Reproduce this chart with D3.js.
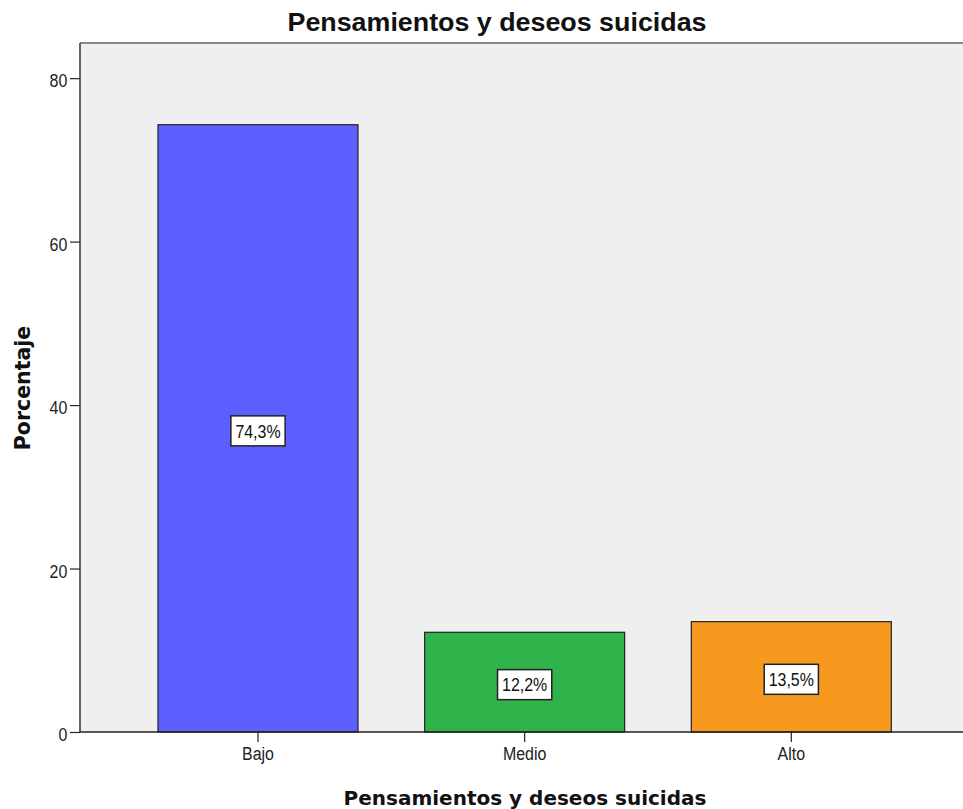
<!DOCTYPE html>
<html><head><meta charset="utf-8">
<script src="https://cdn.jsdelivr.net/npm/d3@7"></script>
<style>body{margin:0;background:#fff}svg{display:block}</style>
</head><body>
<svg id="c" width="963" height="809"></svg>
<script>
const categories = ["Bajo", "Medio", "Alto"];
const values = [74.3, 12.2, 13.5];
const labels = ["74,3%", "12,2%", "13,5%"];
const colors = ["#5b60ff", "#2fb34a", "#f7991f"];
const yTicks = [0, 20, 40, 60, 80];

(function () {
const svg = d3.select("#c");
const pL = 80, pR = 969.3, pT = 43, pB = 732;
const SX = 0.84, FS = 19, FONT = "Liberation Sans, Arial, sans-serif";

const x = d3.scaleBand().domain(categories).range([pL, pR]).paddingInner(0.25).paddingOuter(0.2925);
const y = d3.scaleLinear().domain([0, 84.3]).range([pB, pT]);

svg.append("rect").attr("x", pL).attr("y", pT).attr("width", pR - pL).attr("height", pB - pT).attr("fill", "#efefef");
svg.append("line").attr("x1", pL).attr("x2", pR).attr("y1", pT).attr("y2", pT).attr("stroke", "#8a8a8a").attr("stroke-width", 2);

svg.selectAll("rect.bar").data(values).join("rect").attr("class", "bar")
  .attr("x", (d, i) => x(categories[i])).attr("width", x.bandwidth())
  .attr("y", d => y(d)).attr("height", d => y(0) - y(d))
  .attr("fill", (d, i) => colors[i]).attr("stroke", "#222").attr("stroke-width", 1.2);

const ya = svg.append("g").attr("transform", `translate(${pL},0)`)
  .call(d3.axisLeft(y).tickValues(yTicks).tickSize(10).tickPadding(3));
ya.select(".domain").attr("d", `M0,${pT}V${pB}`).attr("stroke", "#333").attr("stroke-width", 1.5);
ya.selectAll(".tick line").attr("stroke", "#222").attr("stroke-width", 1.2);
ya.selectAll("text").attr("font-family", FONT).attr("font-size", FS).attr("fill", "#222")
  .attr("x", -12.7 / SX).attr("dy", "0.45em").attr("transform", `scale(${SX},1)`);

const xa = svg.append("g").attr("transform", `translate(0,${pB})`)
  .call(d3.axisBottom(x).tickSize(10).tickPadding(5));
xa.select(".domain").attr("d", `M${pL},0H${pR}`).attr("stroke", "#222").attr("stroke-width", 1.5);
xa.selectAll(".tick line").attr("stroke", "#222").attr("stroke-width", 1.2);
xa.selectAll("text").attr("font-family", FONT).attr("font-size", FS).attr("fill", "#222")
  .attr("transform", `scale(${SX},1)`);

const lg = svg.selectAll("g.lab").data(values).join("g").attr("class", "lab")
  .attr("transform", (d, i) => `translate(${x(categories[i]) + x.bandwidth() / 2},${(y(d) + y(0)) / 2 + 2.5})`);
lg.each(function (d, i) {
  const g = d3.select(this);
  const tg = g.append("g").attr("transform", `scale(${SX},1)`);
  const t = tg.append("text").text(labels[i]).attr("text-anchor", "middle").attr("dy", "0.36em")
    .attr("font-family", FONT).attr("font-size", FS).attr("fill", "#111");
  const w = t.node().getBBox().width * SX;
  g.insert("rect", "g").attr("x", -w / 2 - 4.5).attr("y", -15).attr("width", w + 9).attr("height", 30)
    .attr("fill", "#fff").attr("stroke", "#222").attr("stroke-width", 1.5);
});

svg.append("text").attr("x", 497).attr("y", 31).attr("text-anchor", "middle")
  .attr("font-family", FONT).attr("font-weight", "bold").attr("font-size", 25)
  .attr("textLength", 419).attr("lengthAdjust", "spacingAndGlyphs")
  .attr("fill", "#111").text("Pensamientos y deseos suicidas");
svg.append("text").attr("x", 525).attr("y", 805).attr("text-anchor", "middle")
  .attr("font-family", "DejaVu Sans, sans-serif").attr("font-weight", "bold").attr("font-size", 20)
  .attr("fill", "#111").text("Pensamientos y deseos suicidas");
svg.append("text").attr("transform", "translate(30,388) rotate(-90)").attr("text-anchor", "middle")
  .attr("font-family", "DejaVu Sans, sans-serif").attr("font-weight", "bold").attr("font-size", 20.5)
  .attr("fill", "#111").text("Porcentaje");
})();
</script>
</body></html>
